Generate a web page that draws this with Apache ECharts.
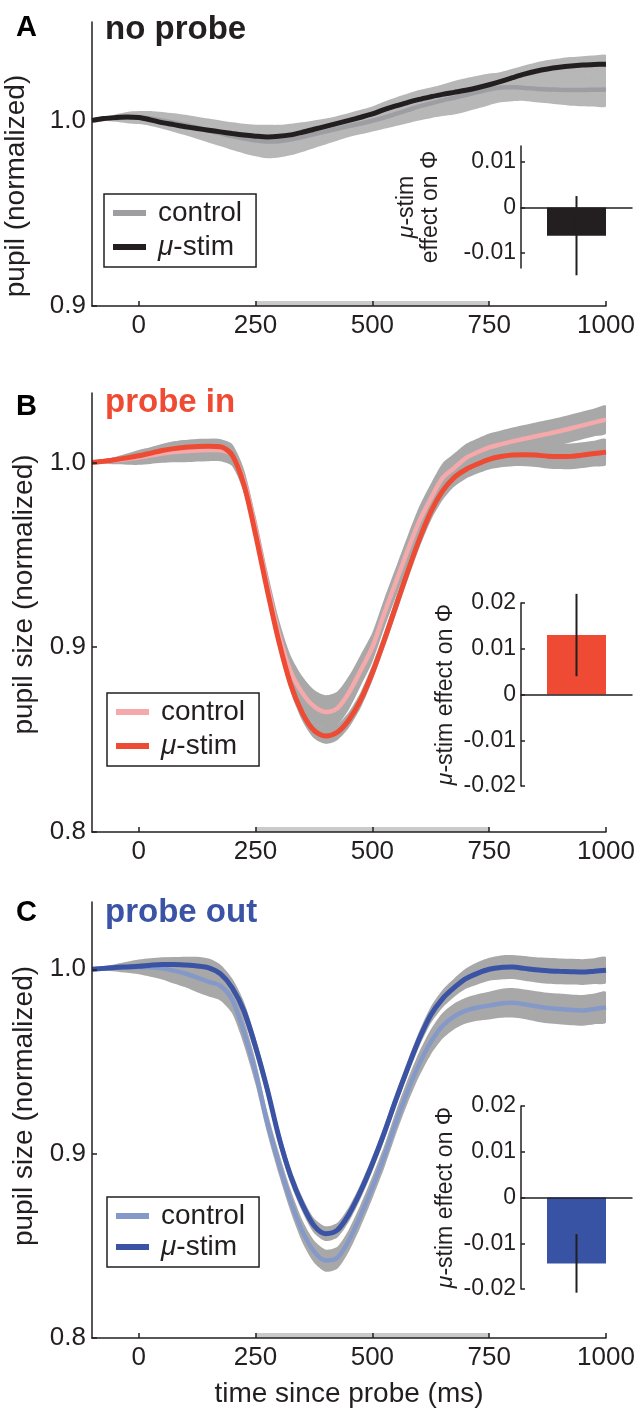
<!DOCTYPE html>
<html>
<head>
<meta charset="utf-8">
<title>pupil size after probe</title>
<script src="https://cdn.jsdelivr.net/npm/echarts@6/dist/echarts.min.js"></script>
<style>
  html, body { margin: 0; padding: 0; background: #fff; }
  #main { width: 639px; height: 1410px; }
</style>
</head>
<body>
<div id="main"></div>
<script>
// time since probe (ms)
var times = [-100, -75, -50, -25, 0, 25, 50, 75, 100, 125, 150, 175, 200, 225, 250, 275, 300, 325, 350, 375,
    400, 425, 450, 475, 500, 525, 550, 575, 600, 625, 650, 675, 700, 725, 750, 775, 800, 825, 850, 875,
    900, 925, 950, 975, 1000];
var stimWindow = [250, 750];
var timeTicks = [0, 250, 500, 750, 1000];

// A - no probe
var ctrlA = [1.000, 1.0008, 1.0012, 1.0015, 1.0015, 1.001, 1.000, 0.9988, 0.9975, 0.996,
    0.9945, 0.993, 0.9915, 0.9902, 0.9892, 0.9886, 0.9888, 0.9897, 0.991, 0.9925,
    0.994, 0.9955, 0.997, 0.9983, 0.9998, 1.0015, 1.0035, 1.0055, 1.0075, 1.0092,
    1.0108, 1.0122, 1.0137, 1.0152, 1.0167, 1.0177, 1.0178, 1.0175, 1.017, 1.0167,
    1.0165, 1.0164, 1.0164, 1.0165, 1.0166];
var ctrlSemA = [0, 0.001, 0.002, 0.003, 0.0035, 0.004, 0.0045, 0.005, 0.0055, 0.006,
    0.0065, 0.007, 0.0075, 0.008, 0.0085, 0.009, 0.0088, 0.0085, 0.008, 0.0075,
    0.007, 0.0065, 0.006, 0.0058, 0.0058, 0.006, 0.0065, 0.007, 0.0075, 0.008,
    0.0085, 0.009, 0.009, 0.0088, 0.0085, 0.008, 0.0075, 0.007, 0.0072, 0.0075,
    0.008, 0.0085, 0.0088, 0.009, 0.009];
var stimA = [1.000, 1.001, 1.0015, 1.0018, 1.0015, 1.0003, 0.9988, 0.9977, 0.9966, 0.9956,
    0.9947, 0.9938, 0.9929, 0.9921, 0.9915, 0.9911, 0.9914, 0.9922, 0.9936, 0.9952,
    0.9968, 0.9984, 1.0000, 1.0017, 1.0035, 1.0058, 1.0078, 1.0096, 1.0113, 1.0127,
    1.0140, 1.0151, 1.0162, 1.0176, 1.0192, 1.0210, 1.0230, 1.0249, 1.0265, 1.0277,
    1.0286, 1.0293, 1.0298, 1.0301, 1.0303];
var stimSemA = [0, 0.0005, 0.001, 0.0012, 0.0015, 0.0018, 0.002, 0.0025, 0.003, 0.0033,
    0.0035, 0.0038, 0.004, 0.004, 0.004, 0.004, 0.004, 0.004, 0.004, 0.004,
    0.004, 0.004, 0.004, 0.004, 0.004, 0.0042, 0.0045, 0.0047, 0.005, 0.005,
    0.005, 0.005, 0.005, 0.005, 0.005, 0.005, 0.0048, 0.0047, 0.0047, 0.0048,
    0.0048, 0.0048, 0.0048, 0.0048, 0.0048];

// B - probe in
var ctrlB = [1.000, 1.0005, 1.001, 1.0018, 1.0027, 1.0037, 1.0048, 1.0056, 1.0061, 1.0065,
    1.0067, 1.0066, 1.004, 0.990, 0.964, 0.934, 0.907, 0.887, 0.8753, 0.868,
    0.865, 0.867, 0.8755, 0.8875, 0.900, 0.918, 0.935, 0.952, 0.968, 0.9805,
    0.9915, 0.997, 1.0024, 1.0055, 1.0082, 1.0098, 1.0114, 1.0128, 1.0142, 1.0155,
    1.0169, 1.0185, 1.0201, 1.0217, 1.0232];
var ctrlSemB = [0, 0.001, 0.002, 0.003, 0.004, 0.0045, 0.005, 0.0055, 0.006, 0.006,
    0.006, 0.006, 0.006, 0.0065, 0.007, 0.0075, 0.008, 0.0085, 0.009, 0.009,
    0.009, 0.009, 0.009, 0.0085, 0.008, 0.008, 0.008, 0.008, 0.008, 0.008,
    0.008, 0.0078, 0.0076, 0.0075, 0.0075, 0.0075, 0.0075, 0.0075, 0.0075, 0.0075,
    0.0075, 0.0075, 0.0075, 0.0075, 0.0075];
var stimB = [1.000, 1.0007, 1.0015, 1.0025, 1.0036, 1.005, 1.0065, 1.0075, 1.0082, 1.0087,
    1.0088, 1.0085, 1.004, 0.988, 0.961, 0.931, 0.903, 0.880, 0.8645, 0.855,
    0.852, 0.854, 0.8608, 0.8715, 0.8862, 0.9035, 0.922, 0.9405, 0.958, 0.9733,
    0.9845, 0.9918, 0.9962, 0.9992, 1.0017, 1.0032, 1.004, 1.0042, 1.004, 1.0034,
    1.0032, 1.0033, 1.004, 1.0048, 1.0056];
var stimSemB = [0, 0.001, 0.0015, 0.002, 0.0025, 0.003, 0.0035, 0.004, 0.004, 0.004,
    0.004, 0.004, 0.004, 0.004, 0.004, 0.004, 0.004, 0.0042, 0.0043, 0.0043,
    0.0043, 0.0043, 0.0043, 0.0043, 0.0043, 0.0043, 0.0045, 0.0045, 0.0045, 0.0048,
    0.005, 0.005, 0.005, 0.0052, 0.0055, 0.0058, 0.006, 0.0062, 0.0064, 0.0066,
    0.0068, 0.007, 0.007, 0.007, 0.007];

// C - probe out
var ctrlC = [1.000, 1.0004, 1.0008, 1.0011, 1.0013, 1.001, 1.0005, 0.9993, 0.9977, 0.9955,
    0.9932, 0.991, 0.9835, 0.966, 0.944, 0.917, 0.8945, 0.8745, 0.858, 0.847,
    0.842, 0.8435, 0.853, 0.8665, 0.8817, 0.898, 0.9165, 0.9335, 0.9484, 0.9605,
    0.9693, 0.9745, 0.9776, 0.9793, 0.9803, 0.9815, 0.9818, 0.981, 0.9799, 0.979,
    0.9785, 0.978, 0.9777, 0.9785, 0.9794];
var ctrlSemC = [0, 0.001, 0.002, 0.003, 0.004, 0.005, 0.006, 0.007, 0.0075, 0.008,
    0.008, 0.008, 0.0075, 0.007, 0.0065, 0.006, 0.006, 0.006, 0.006, 0.006,
    0.006, 0.006, 0.006, 0.006, 0.006, 0.006, 0.0062, 0.0064, 0.0066, 0.0068,
    0.007, 0.007, 0.007, 0.0072, 0.0075, 0.0078, 0.008, 0.008, 0.0082, 0.0083,
    0.0083, 0.0083, 0.0083, 0.0083, 0.0083];
var stimC = [1.000, 1.0005, 1.001, 1.0013, 1.0016, 1.0022, 1.0026, 1.0026, 1.0023, 1.0018,
    1.0008, 0.9975, 0.990, 0.9775, 0.958, 0.935, 0.909, 0.888, 0.8725, 0.861,
    0.8566, 0.8585, 0.8672, 0.8797, 0.8945, 0.911, 0.929, 0.946, 0.962, 0.9752,
    0.984, 0.990, 0.9949, 0.9978, 1.000, 1.001, 1.0012, 1.0005, 0.9997, 0.9992,
    0.9989, 0.9987, 0.9985, 0.999, 0.9995];
var stimSemC = [0, 0.0008, 0.0015, 0.002, 0.0025, 0.003, 0.0035, 0.004, 0.0045, 0.005,
    0.005, 0.005, 0.005, 0.005, 0.0048, 0.0046, 0.0044, 0.0042, 0.004, 0.004,
    0.004, 0.004, 0.004, 0.004, 0.004, 0.004, 0.004, 0.004, 0.0042, 0.0045,
    0.0048, 0.005, 0.0055, 0.006, 0.0062, 0.0065, 0.0065, 0.0067, 0.0068, 0.007,
    0.007, 0.007, 0.007, 0.007, 0.007];

// insets: mu-stim effect on phi (mean, error)
var effectA = [-0.0062, 0.0087];
var effectB = [0.013, 0.009];
var effectC = [-0.0144, 0.0064];
var effectTicksA = [-0.01, 0, 0.01];
var effectTicksBC = [-0.02, -0.01, 0, 0.01, 0.02];
var pupilTicksA = [0.9, 1.0];
var pupilTicksBC = [0.8, 0.9, 1.0];

var FONT = 'Liberation Sans, Arial, Helvetica, sans-serif';
var INK = '#231f20';

var grids = [], xAxes = [], yAxes = [], series = [], legends = [];

function pairs(vals) {
    return times.map(function (t, i) { return [t, vals[i]]; });
}

// shaded error band: one polygon through all (t, lo, hi) items
function addBand(gi, mean, sem, color) {
    series.push({
        type: 'custom', xAxisIndex: gi, yAxisIndex: gi, silent: true, z: 1, clip: true,
        data: times.map(function (t, i) { return [t, mean[i] - sem[i], mean[i] + sem[i]]; }),
        encode: { x: 0, y: [1, 2] },
        renderItem: function (params, api) {
            if (params.dataIndexInside !== 0) return;
            var upper = [], lower = [];
            for (var i = 0; i < params.dataInsideLength; i++) {
                upper.push(api.coord([api.value(0, i), api.value(2, i)]));
                lower.push(api.coord([api.value(0, i), api.value(1, i)]));
            }
            return {
                type: 'polygon',
                shape: { points: upper.concat(lower.reverse()), smooth: 0.25 },
                style: { fill: color }
            };
        }
    });
}

function addLine(gi, name, vals, color, width) {
    series.push({
        type: 'line', name: name, xAxisIndex: gi, yAxisIndex: gi, data: pairs(vals),
        symbol: 'none', smooth: 0.3, silent: true, color: color,
        lineStyle: { color: color, width: width }, itemStyle: { color: color }, z: 3
    });
}

function legendText(name) {
    return name.split(' (')[0].replace('μ', '{i|μ}');
}

function addMain(gi, p) {
    grids.push({ left: 92, width: 514, top: p.top, height: p.height, outerBoundsMode: 'none' });
    xAxes.push({
        gridIndex: gi, type: 'value', min: -100, max: 1000, z: 5,
        axisLine: { show: true, onZero: false, lineStyle: { color: INK, width: 1.5 } },
        axisTick: { show: true, inside: true, length: 5, customValues: timeTicks, lineStyle: { color: INK, width: 1.5 } },
        axisLabel: {
            customValues: timeTicks, fontSize: 26, color: INK, margin: 7, fontFamily: FONT,
            formatter: function (v) { return String(v); }
        },
        splitLine: { show: false },
        name: p.xName || '', nameLocation: 'middle', nameGap: 42,
        nameTextStyle: { fontSize: 28, color: INK, fontFamily: FONT }
    });
    yAxes.push({
        gridIndex: gi, type: 'value', min: p.yMin, max: p.yMax, z: 5,
        axisLine: { show: true, onZero: false, lineStyle: { color: INK, width: 1.5 } },
        axisTick: { show: true, inside: true, length: 5, customValues: p.yTicks, lineStyle: { color: INK, width: 1.5 } },
        axisLabel: {
            customValues: p.yTicks, fontSize: 26, color: INK, margin: 6, fontFamily: FONT,
            formatter: function (v) { return v.toFixed(1); }
        },
        splitLine: { show: false },
        name: p.yName, nameLocation: 'middle', nameGap: p.nameGap,
        nameTextStyle: { fontSize: 28, color: INK, fontFamily: FONT, padding: p.namePad }
    });
    addBand(gi, p.ctrl, p.ctrlSem, p.band);
    addBand(gi, p.stim, p.stimSem, p.band);
    addLine(gi, p.ctrlName, p.ctrl, p.ctrlColor, 4.5);
    addLine(gi, p.stimName, p.stim, p.stimColor, 5);
    series.push({
        type: 'custom', xAxisIndex: gi, yAxisIndex: gi, data: [stimWindow], encode: { x: [0, 1] },
        silent: true, z: 2,
        renderItem: function (params, api) {
            var a = api.coord([api.value(0), p.yMin]);
            var b = api.coord([api.value(1), p.yMin]);
            return { type: 'rect', shape: { x: a[0], y: a[1] - 5, width: b[0] - a[0], height: 5 }, style: { fill: '#cacaca' } };
        }
    });
    legends.push({
        data: [p.ctrlName, p.stimName], orient: 'vertical', left: p.legLeft, top: p.legTop,
        icon: 'rect', itemWidth: 33, itemHeight: 6, itemGap: p.legGap, padding: [4, 14, 5, 9],
        borderColor: INK, borderWidth: 1.5, selectedMode: false, formatter: legendText,
        textStyle: {
            fontSize: 28, color: INK, lineHeight: 30, fontFamily: FONT, padding: [0, 0, 0, 7],
            rich: { i: { fontStyle: 'italic', fontSize: 28, color: INK, fontFamily: FONT } }
        }
    });
}

function addInset(gi, p) {
    grids.push({ left: 521, width: 111, top: p.top, height: p.height, outerBoundsMode: 'none' });
    xAxes.push({
        gridIndex: gi, type: 'category', data: ['effect'], z: 5,
        axisLine: { show: true, onZero: true, lineStyle: { color: INK, width: 1.5 } },
        axisTick: { show: false }, axisLabel: { show: false }, splitLine: { show: false }
    });
    yAxes.push({
        gridIndex: gi, type: 'value', min: p.yMin, max: p.yMax, z: 5,
        axisLine: { show: true, onZero: false, lineStyle: { color: INK, width: 1.5 } },
        axisTick: { show: true, inside: true, length: 4, customValues: p.ticks, lineStyle: { color: INK, width: 1.5 } },
        axisLabel: {
            customValues: p.ticks, fontSize: 23, color: INK, margin: 5, fontFamily: FONT,
            formatter: function (v) { return v === 0 ? '0' : String(+v.toFixed(2)); }
        },
        splitLine: { show: false },
        name: p.name, nameLocation: 'middle', nameGap: p.nameGap,
        nameTextStyle: {
            fontSize: 23, lineHeight: 24, color: INK, fontFamily: FONT, align: 'center',
            rich: { i: { fontStyle: 'italic', fontSize: 23, color: INK, fontFamily: FONT } }
        }
    });
    series.push({
        type: 'bar', xAxisIndex: gi, yAxisIndex: gi, data: [p.effect[0]], barWidth: 59,
        itemStyle: { color: p.color }, silent: true, z: 2
    });
    series.push({
        type: 'custom', xAxisIndex: gi, yAxisIndex: gi, silent: true, z: 6,
        data: [[0, p.effect[0] - p.effect[1], p.effect[0] + p.effect[1]]],
        encode: { x: 0, y: [1, 2] },
        renderItem: function (params, api) {
            var lo = api.coord([api.value(0), api.value(1)]);
            var hi = api.coord([api.value(0), api.value(2)]);
            return { type: 'line', shape: { x1: lo[0], y1: lo[1], x2: hi[0], y2: hi[1] }, style: { stroke: INK, lineWidth: 2 } };
        }
    });
}

addMain(0, {
    top: 22, height: 284, yMin: 0.9, yMax: 1.053, yTicks: pupilTicksA,
    yName: 'pupil (normalized)', nameGap: 62, namePad: [0, 44, 0, 0],
    ctrl: ctrlA, ctrlSem: ctrlSemA, stim: stimA, stimSem: stimSemA, band: '#b7b7b7',
    ctrlName: 'control (A)', stimName: 'μ-stim (A)', ctrlColor: '#9e9ea2', stimColor: INK,
    legLeft: 104, legTop: 194, legGap: 4
});
addInset(1, {
    top: 146, height: 122, yMin: -0.0133, yMax: 0.0135, ticks: effectTicksA,
    name: '{i|μ}-stim\neffect on Φ', nameGap: 78, effect: effectA, color: INK
});
addMain(2, {
    top: 393, height: 439, yMin: 0.8, yMax: 1.0376, yTicks: pupilTicksBC,
    yName: 'pupil size (normalized)', nameGap: 54, namePad: [0, 0, 0, 36],
    ctrl: ctrlB, ctrlSem: ctrlSemB, stim: stimB, stimSem: stimSemB, band: '#a8a8a8',
    ctrlName: 'control (B)', stimName: 'μ-stim (B)', ctrlColor: '#f5a9ab', stimColor: '#ee4b34',
    legLeft: 107, legTop: 693, legGap: 4
});
addInset(3, {
    top: 603, height: 183, yMin: -0.02, yMax: 0.02, ticks: effectTicksBC,
    name: '{i|μ}-stim effect on Φ', nameGap: 63, effect: effectB, color: '#ef4a33'
});
addMain(4, {
    top: 902, height: 436, yMin: 0.8, yMax: 1.0365, yTicks: pupilTicksBC,
    yName: 'pupil size (normalized)', nameGap: 54, namePad: [0, 0, 0, 28],
    ctrl: ctrlC, ctrlSem: ctrlSemC, stim: stimC, stimSem: stimSemC, band: '#a8a8a8',
    ctrlName: 'control (C)', stimName: 'μ-stim (C)', ctrlColor: '#8599c8', stimColor: '#3a53a4',
    legLeft: 107, legTop: 1197, legGap: 1, xName: 'time since probe (ms)'
});
addInset(5, {
    top: 1106, height: 183, yMin: -0.02, yMax: 0.02, ticks: effectTicksBC,
    name: '{i|μ}-stim effect on Φ', nameGap: 63, effect: effectC, color: '#3953a4'
});

var chart = echarts.init(document.getElementById('main'), null, { renderer: 'canvas' });
chart.setOption({
    animation: false,
    backgroundColor: '#fff',
    textStyle: { fontFamily: FONT },
    title: [
        { text: 'A', left: 16, top: 13, padding: 0, textStyle: { fontSize: 29, fontWeight: 'bold', color: '#000', fontFamily: FONT } },
        { text: 'no probe', left: 105, top: 13, padding: 0, textStyle: { fontSize: 33, fontWeight: 'bold', color: INK, fontFamily: FONT } },
        { text: 'B', left: 16, top: 392, padding: 0, textStyle: { fontSize: 29, fontWeight: 'bold', color: '#000', fontFamily: FONT } },
        { text: 'probe in', left: 105, top: 386, padding: 0, textStyle: { fontSize: 33, fontWeight: 'bold', color: '#ef4a33', fontFamily: FONT } },
        { text: 'C', left: 16, top: 898, padding: 0, textStyle: { fontSize: 29, fontWeight: 'bold', color: '#000', fontFamily: FONT } },
        { text: 'probe out', left: 105, top: 896, padding: 0, textStyle: { fontSize: 33, fontWeight: 'bold', color: '#3a53a4', fontFamily: FONT } }
    ],
    legend: legends,
    grid: grids,
    xAxis: xAxes,
    yAxis: yAxes,
    series: series
});
</script>
</body>
</html>
